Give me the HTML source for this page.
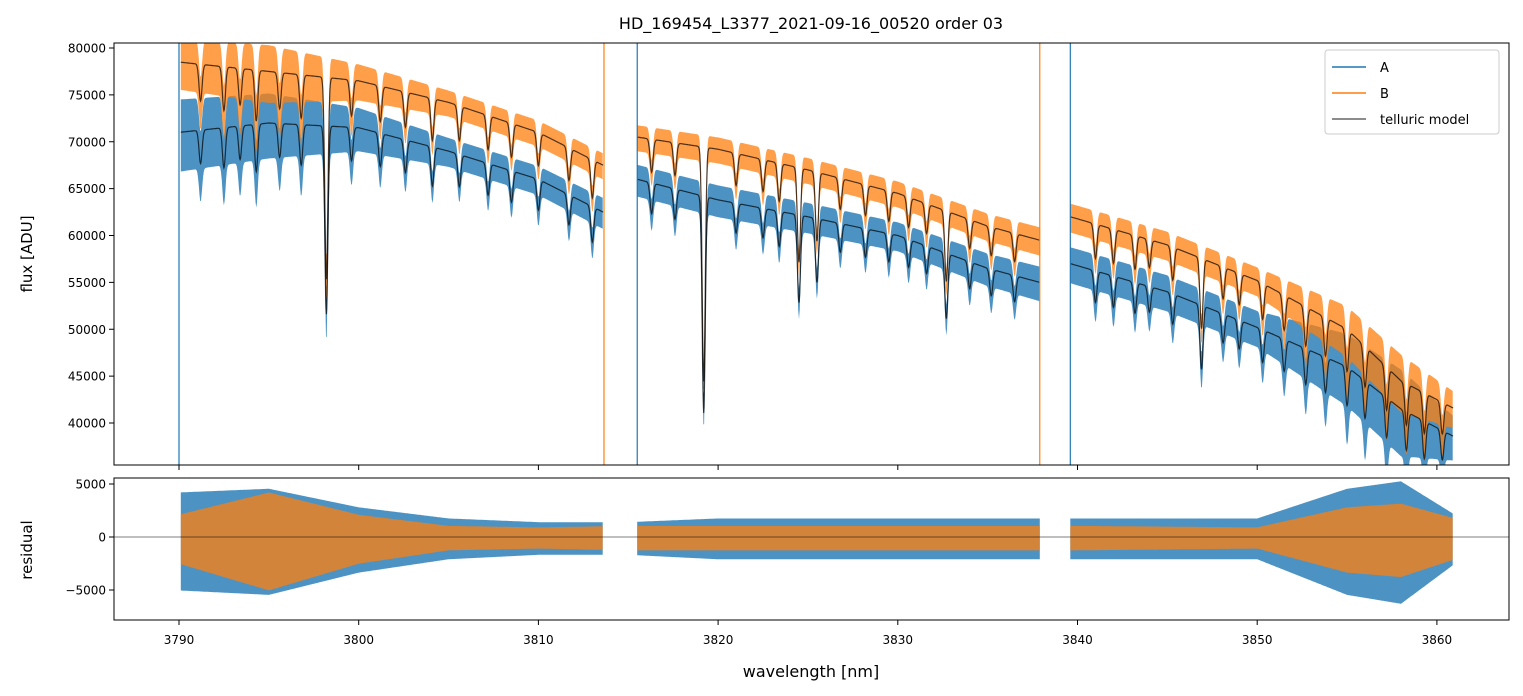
<!DOCTYPE html>
<html><head><meta charset="utf-8">
<style>
body{margin:0;background:#fff;}
svg{display:block;font-family:"DejaVu Sans","Liberation Sans",sans-serif;}
</style></head>
<body>
<svg id="chart" width="1523" height="696" viewBox="0 0 1523 696">
<defs>
<clipPath id="ct"><rect x="114" y="43" width="1395" height="422"/></clipPath>
<clipPath id="cb"><rect x="114" y="478" width="1395" height="142"/></clipPath>
</defs>
<rect width="1523" height="696" fill="#fff"/>
<text x="811" y="29" text-anchor="middle" font-size="16">HD_169454_L3377_2021-09-16_00520  order 03</text>
<g id="gtop" clip-path="url(#ct)"></g>
<g id="gbot" clip-path="url(#cb)"></g>
<rect x="114" y="43" width="1395" height="422" fill="none" stroke="#000" stroke-width="1"/>
<rect x="114" y="478" width="1395" height="142" fill="none" stroke="#000" stroke-width="1"/>
<g id="gaxes"></g>
<text x="32" y="254" text-anchor="middle" font-size="15" transform="rotate(-90 32 254)">flux [ADU]</text>
<text x="32" y="550" text-anchor="middle" font-size="15" transform="rotate(-90 32 550)">residual</text>
<text x="811" y="677" text-anchor="middle" font-size="16">wavelength [nm]</text>
<g>
<rect x="1325" y="50" width="174" height="84" rx="3" fill="#fff" fill-opacity="0.85" stroke="#ccc"/>
<line x1="1332" y1="67" x2="1366" y2="67" stroke="#1f77b4" stroke-width="1.6"/>
<text x="1380" y="72" font-size="13">A</text>
<line x1="1332" y1="93" x2="1366" y2="93" stroke="#ff7f0e" stroke-width="1.6"/>
<text x="1380" y="98" font-size="13">B</text>
<line x1="1332" y1="119" x2="1366" y2="119" stroke="#666" stroke-width="1.6"/>
<text x="1380" y="124" font-size="13">telluric model</text>
</g>
</svg>
<script>
// ---- data ----
const segments = [[3790.1,3813.6],[3815.5,3837.9],[3839.6,3860.9]];
const contX = [3790,3795,3800,3805,3810,3813.6,3815.5,3820,3825,3830,3835,3837.9,3839.6,3845,3850,3855,3858,3861];
const modelB = [78500,77500,76500,74200,71000,67500,70500,69200,67000,64500,61000,59500,62000,59000,55200,50000,44500,41500];
const modelA = [71000,72000,71500,69000,66000,62500,66000,63800,62000,60000,56500,55000,57000,54000,50200,46000,41500,38500];
const lineCenters = [3791.2,3792.5,3793.4,3794.3,3795.6,3796.8,3798.2,3799.6,3801.2,3802.6,3804.1,3805.6,3807.2,3808.5,3810.0,3811.7,3813.0,3816.3,3817.6,3819.2,3821.0,3822.5,3823.4,3824.5,3825.5,3826.8,3828.2,3829.5,3830.6,3831.6,3832.7,3834.0,3835.2,3836.5,3841.0,3842.0,3843.2,3844.0,3845.3,3846.9,3848.1,3849.0,3850.3,3851.5,3852.7,3853.8,3855.0,3856.0,3857.2,3858.3,3859.3,3860.3];
const lineDepths = [0.05,0.06,0.05,0.07,0.05,0.06,0.28,0.05,0.05,0.05,0.06,0.05,0.05,0.05,0.05,0.05,0.06,0.05,0.05,0.36,0.05,0.05,0.06,0.15,0.11,0.05,0.05,0.05,0.05,0.05,0.12,0.05,0.05,0.05,0.06,0.06,0.06,0.05,0.06,0.13,0.06,0.06,0.07,0.07,0.08,0.08,0.09,0.09,0.1,0.1,0.1,0.08];
const noiseX = [3790,3795,3800,3805,3810,3815,3820,3830,3840,3850,3855,3858,3861];
const noiseA = [5000,4500,3000,2000,2000,2200,2200,2000,2500,2500,5000,6000,3000];
const noiseB = [3500,4000,2500,1800,1800,1800,1800,1800,2000,2000,3500,4000,2500];
const residA = [6000,6500,4000,2500,2000,2000,2500,2500,2500,2500,6500,7500,3000];
const residB = [3000,6000,3000,1500,1300,1500,1500,1500,1500,1300,4000,4500,2500];
const spikesX = [3790.0,3813.65,3815.5,3839.6,3837.9];
const xTicks = [3790,3800,3810,3820,3830,3840,3850,3860];
const yTicks = [40000,45000,50000,55000,60000,65000,70000,75000,80000];
const rTicks = [5000,0,-5000];
// ---- scales ----
const X = v => 179 + (v-3790)*17.97;
const Y = v => 423 - (v-40000)*0.009375;
const R = v => 537 - v*0.0106;
const NS='http://www.w3.org/2000/svg';
function interp(xs,ys,x){ if(x<=xs[0])return ys[0]; for(let i=1;i<xs.length;i++){ if(x<=xs[i]){const t=(x-xs[i-1])/(xs[i]-xs[i-1]); return ys[i-1]+t*(ys[i]-ys[i-1]);}} return ys[ys.length-1];}
function absorb(x){ let f=1; for(let i=0;i<lineCenters.length;i++){const d=(x-lineCenters[i])/0.12; f*=1-lineDepths[i]*Math.exp(-d*d);} return f;}
function mk(tag,attrs,parent){const e=document.createElementNS(NS,tag); for(const k in attrs)e.setAttribute(k,attrs[k]); parent.appendChild(e); return e;}
const gTop=document.getElementById('gtop'), gBot=document.getElementById('gbot'), gAxes=document.getElementById('gaxes');
function band(seg,fnC,fnW,sc,color,name,parent,alpha){
  const up=[],dn=[];
  for(let x=seg[0];x<=seg[1];x+=0.04){const c=fnC(x),w=fnW(x); up.push(X(x).toFixed(1)+','+sc(c+w).toFixed(1)); dn.unshift(X(x).toFixed(1)+','+sc(c-w*1.2).toFixed(1));}
  const p=mk('polygon',{points:up.concat(dn).join(' '),fill:color,'fill-opacity':alpha},parent);
  
  
}
function drawLine(seg,fn,sc,color,name,parent){
  const pts=[]; for(let x=seg[0];x<=seg[1];x+=0.02){pts.push(X(x).toFixed(1)+','+sc(fn(x)).toFixed(1));}
  const p=mk('polyline',{points:pts.join(' '),fill:'none',stroke:color,'stroke-width':1.2,'stroke-opacity':0.7},parent);
  
  
}
segments.forEach((s,i)=>{
  band(s,x=>interp(contX,modelA,x)*absorb(x),x=>interp(noiseX,noiseA,x)*0.7,Y,'#1f77b4','series-a-flux-'+i,gTop,0.8);
  band(s,x=>interp(contX,modelB,x)*absorb(x),x=>interp(noiseX,noiseB,x)*0.7,Y,'#ff7f0e','series-b-flux-'+i,gTop,0.75);
  drawLine(s,x=>interp(contX,modelA,x)*absorb(x),Y,'#000','telluric-model-a-'+i,gTop);
  drawLine(s,x=>interp(contX,modelB,x)*absorb(x),Y,'#000','telluric-model-b-'+i,gTop);
  band(s,x=>0,x=>interp(noiseX,residA,x)*0.7,R,'#1f77b4','series-a-residual-'+i,gBot,0.8);
  band(s,x=>0,x=>interp(noiseX,residB,x)*0.7,R,'#ff7f0e','series-b-residual-'+i,gBot,0.75);
});
spikesX.forEach((s,i)=>{
  const c=i===1||i===4?'#ff7f0e':'#1f77b4';
  const l=mk('line',{x1:X(s),x2:X(s),y1:43,y2:465,stroke:c,'stroke-width':1.2},gTop);
  
  
});
const zl=mk('line',{x1:114,x2:1509,y1:R(0),y2:R(0),stroke:'#000','stroke-width':0.6},gBot);


xTicks.forEach(t=>{
  mk('line',{x1:X(t),x2:X(t),y1:465,y2:470,stroke:'#000'},gAxes);
  mk('line',{x1:X(t),x2:X(t),y1:620,y2:625,stroke:'#000'},gAxes);
  const tx=mk('text',{x:X(t),y:644,'text-anchor':'middle','font-size':12},gAxes); tx.textContent=t;
  
  
});
yTicks.forEach(t=>{
  mk('line',{x1:109,x2:114,y1:Y(t),y2:Y(t),stroke:'#000'},gAxes);
  const tx=mk('text',{x:106,y:Y(t)+4.5,'text-anchor':'end','font-size':12},gAxes); tx.textContent=t;
  
  
});
rTicks.forEach(t=>{
  mk('line',{x1:109,x2:114,y1:R(t),y2:R(t),stroke:'#000'},gAxes);
  const tx=mk('text',{x:106,y:R(t)+4.5,'text-anchor':'end','font-size':12},gAxes); tx.textContent=t===-5000?'\u22125000':t;
  
  
});
</script>
</body></html>
